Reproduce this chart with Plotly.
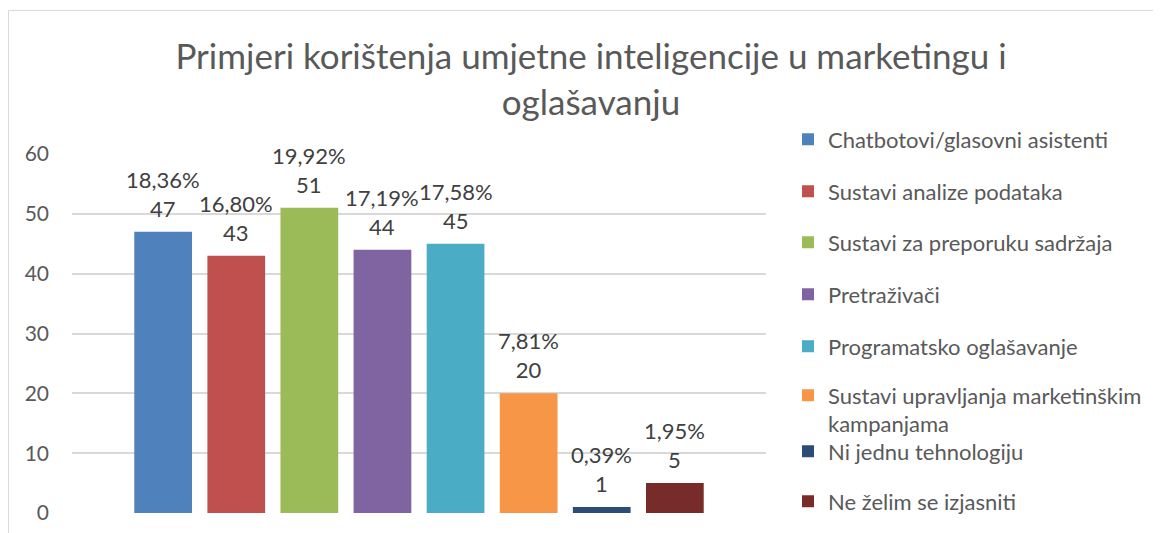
import plotly.graph_objects as go

# ---------------- data ----------------
categories = [
    "Chatbotovi/glasovni asistenti",
    "Sustavi analize podataka",
    "Sustavi za preporuku sadržaja",
    "Pretraživači",
    "Programatsko oglašavanje",
    "Sustavi upravljanja marketinškim kampanjama",
    "Ni jednu tehnologiju",
    "Ne želim se izjasniti",
]
legend_labels = [
    "Chatbotovi/glasovni asistenti",
    "Sustavi analize podataka",
    "Sustavi za preporuku sadržaja",
    "Pretraživači",
    "Programatsko oglašavanje",
    "Sustavi upravljanja marketinškim<br>kampanjama",
    "Ni jednu tehnologiju",
    "Ne želim se izjasniti",
]
counts = [47, 43, 51, 44, 45, 20, 1, 5]
percents = [18.36, 16.80, 19.92, 17.19, 17.58, 7.81, 0.39, 1.95]
y_ticks = [0, 10, 20, 30, 40, 50, 60]
title_text = "Primjeri korištenja umjetne inteligencije u marketingu i<br>oglašavanju"

colors = ["#4F81BD", "#C0504D", "#9BBB59", "#8064A2",
          "#4BACC6", "#F79646", "#2C4D75", "#772C2A"]

# ---------------- geometry ----------------
# the page adds an 8px body margin; positions below are given in page pixels
OFF = 8
W, H = 1161 - OFF, 533 - OFF
L, R, T, B = 72 - OFF, 766 - OFF, 154 - OFF, 513 - OFF
FONT = "Lato"


def xp(px):
    return (px - OFF - L) / (R - L)


def yp(py):
    return (B - (py - OFF)) / (B - T)


legend_centers = [140, 192, 243, 295, 347, 396, 452, 502]

fig = go.Figure()
for i, (cat, lab, v, c) in enumerate(zip(categories, legend_labels, counts, colors)):
    lg = "legend" if i == 0 else f"legend{i + 1}"
    fig.add_trace(go.Bar(
        x=[cat], y=[v], name=lab, marker=dict(color=c, line=dict(width=0)),
        legend=lg, hoverinfo="x+y",
    ))

# data labels
for cat, v, p in zip(categories, counts, percents):
    txt = f"{p:.2f}".replace(".", ",") + "%<br>" + str(v)
    fig.add_annotation(
        x=cat, y=v, text=txt, showarrow=False, yanchor="bottom",
        yshift=8, font=dict(family=FONT, size=22, color="#404040"),
    )

n = len(categories)
slots = (R - L) / 73.1
pad = (slots - n) / 2

layout_legends = {}
for i, cy in enumerate(legend_centers):
    key = "legend" if i == 0 else f"legend{i + 1}"
    layout_legends[key] = dict(
        x=xp(788), xanchor="left", y=yp(cy - 21.5), yanchor="top",
        bgcolor="rgba(0,0,0,0)", borderwidth=0, valign="top",
        font=dict(family=FONT, size=22, color="#595959"),
    )

fig.update_layout(
    width=W, height=H,
    margin=dict(l=L, r=W - R, t=T, b=H - B, pad=0, autoexpand=False),
    paper_bgcolor="white", plot_bgcolor="white",
    barmode="overlay", bargap=0.21,
    showlegend=True,
    title=dict(
        text=title_text, x=(591 - OFF) / W, xanchor="center",
        y=1 - 61 / H, yanchor="top", yref="container",
        font=dict(family=FONT, size=35, color="#595959"),
    ),
    xaxis=dict(
        type="category", categoryorder="array", categoryarray=categories,
        range=[-0.5 - pad, n - 0.5 + pad],
        showticklabels=False, showgrid=False, zeroline=False, showline=False,
        ticks="", fixedrange=True,
    ),
    yaxis=dict(
        range=[0, 60], tickvals=y_ticks, showgrid=True,
        gridcolor="#D9D9D9", gridwidth=1.5, zeroline=False, showline=False,
        ticks="", ticklabelstandoff=22,
        tickfont=dict(family=FONT, size=21, color="#595959"),
        fixedrange=True,
    ),
    shapes=[dict(
        type="rect", xref="paper", yref="paper",
        x0=xp(8.5), x1=xp(1300), y0=yp(700), y1=yp(10.5),
        line=dict(color="#D9D9D9", width=1), fillcolor="rgba(0,0,0,0)",
        layer="below",
    )],
    **layout_legends,
)

fig.write_html("out.html")
